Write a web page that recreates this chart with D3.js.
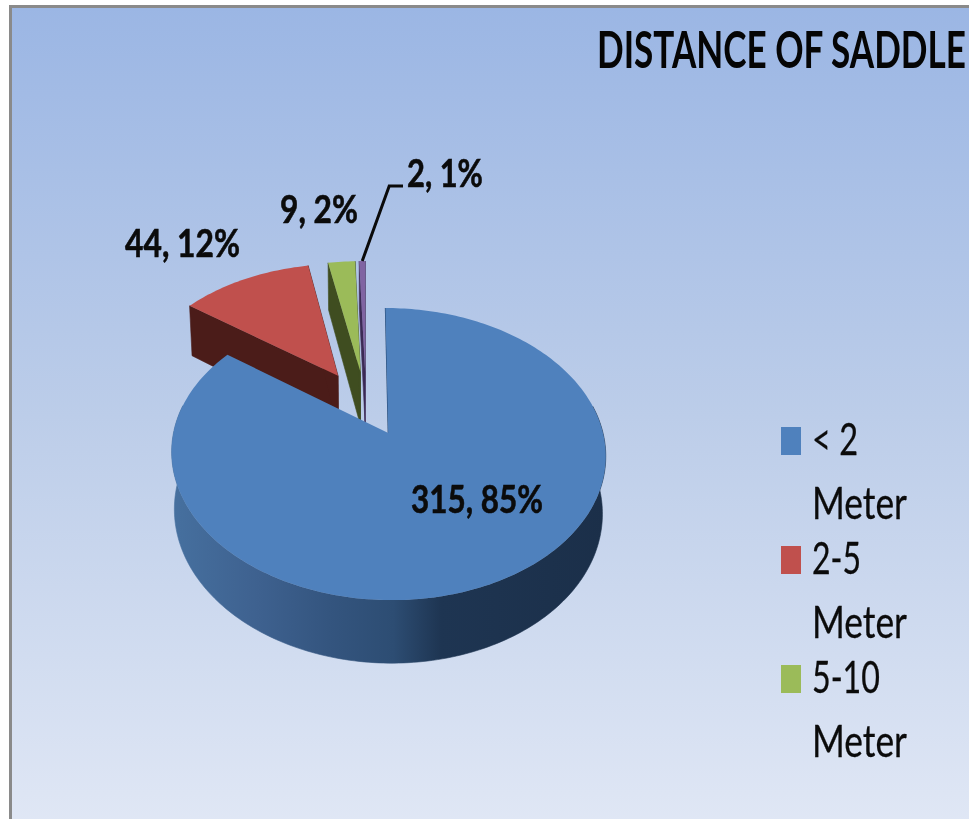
<!DOCTYPE html>
<html><head><meta charset="utf-8">
<script src="https://cdn.jsdelivr.net/npm/d3@7"></script>
<style>html,body{margin:0;padding:0;background:#fff;overflow:hidden}svg{display:block;filter:blur(.6px)}</style>
</head><body><svg id="c" width="969" height="819"></svg>
<script>
const categories = ["< 2 Meter","2-5 Meter","5-10 Meter","> 10 Meter"];
const counts = [315,44,9,2];
const percentLabels = ["85%","12%","2%","1%"];
const legendLines = [["< 2","Meter"],["2-5","Meter"],["5-10","Meter"]];
const titleText = "DISTANCE OF SADDLE";
const topColors = ["#4f81bd","#c0504d","#9bbb59","#8064a2"];
const wallColors = ["#2f5583","#4b1c19","#3f4d20","#3c2a55"];

const svg = d3.select("#c");
const defs = svg.append("defs");
const bg = defs.append("linearGradient").attr("id","bg").attr("x1",0).attr("x2",0).attr("y1",0).attr("y2",1);
[[0,"#9bb6e4"],[.5,"#bccde9"],[1,"#e0e7f5"]].forEach(s=>bg.append("stop").attr("offset",s[0]).attr("stop-color",s[1]));
const wg = defs.append("linearGradient").attr("id","wall").attr("gradientUnits","userSpaceOnUse").attr("x1",172).attr("x2",606).attr("y1",0).attr("y2",0);
[[0,"#46709f"],[.2,"#3e618f"],[.36,"#34557f"],[.51,"#2d4d73"],[.62,"#1e3552"],[1,"#1b2f49"]].forEach(s=>wg.append("stop").attr("offset",s[0]).attr("stop-color",s[1]));

svg.append("rect").attr("width",969).attr("height",819).attr("fill","#fff");
svg.append("rect").attr("x",10.5).attr("y",6.5).attr("width",970).attr("height",820).attr("fill","url(#bg)").attr("stroke","#8a8a8a").attr("stroke-width",3);

// perspective projection of the pie plane
const ox=366, oy=404.5, ax=208.6, ay=134.9, k=.14;
const explode=[.23,.26,.25,.25];
const project=(u,v)=>{const w=1+k*v;return [ox+ax*u/w, oy-ay*v/w];};
const depth=(p,v)=>[ox+(p[0]-ox)*.986, p[1]+55.2-6.5*v];
const pie=d3.pie().sort(null).value(d=>d);
const arcs=pie(counts);
const line=d3.line();

function slicePts(a,i){
  const mid=(a.startAngle+a.endAngle)/2;
  const cu=explode[i]*Math.sin(mid), cv=explode[i]*Math.cos(mid);
  const n=Math.max(2,Math.ceil((a.endAngle-a.startAngle)/.02));
  const rim=d3.range(n+1).map(j=>{
    const t=a.startAngle+(a.endAngle-a.startAngle)*j/n;
    return {u:cu+Math.sin(t),v:cv+Math.cos(t),front:Math.cos(t)<.2};
  });
  return {c:{u:cu,v:cv},rim};
}
const P=q=>project(q.u,q.v), B=q=>depth(P(q),q.v);
const order=[3,2,1,0];
const g=svg.append("g");
const geo=arcs.map(slicePts);
order.forEach(i=>{
  const s=geo[i], fill=i===0?"url(#wall)":wallColors[i];
  const wall=pts=>g.append("path").attr("d",line(pts)+"Z").attr("fill",fill).attr("stroke",fill).attr("stroke-width",.6);
  if(i===0){
    const front=s.rim.filter(q=>q.front);
    wall([...front.map(P),...front.slice().reverse().map(B)]);
    g.append("path").attr("d",line([P(s.rim[0]),P(s.c)])).attr("stroke","#274a75").attr("stroke-width",1.2);
  } else {
    wall([P(s.rim[0]),P(s.c),B(s.c),B(s.rim[0])]);
    wall([P(s.rim[s.rim.length-1]),P(s.c),B(s.c),B(s.rim[s.rim.length-1])]);
  }
  g.append("path").attr("d",line([P(s.c),...s.rim.map(P)])+"Z").attr("fill",topColors[i]);
});

// leader line for the smallest slice
const lastRim=geo[3].rim[Math.floor(geo[3].rim.length/2)], ls=P(lastRim);
svg.append("path").attr("d",line([ls,[ls[0]+27,186],[403,186]])).attr("fill","none").attr("stroke","#0a0a0a").attr("stroke-width",3);

const font='Lato,"Open Sans",sans-serif';
// squeeze each text horizontally to the width it has in the picture
const fit=(sel,w)=>{
  const x=+sel.attr("x"), y=+sel.attr("y"), len=sel.node().getComputedTextLength();
  return sel.attr("x",0).attr("y",0).attr("transform",`translate(${x},${y}) scale(${w/len},1)`);
};
const labelBox=[[411,513,132],[125,257,115],[280,223,78],[407,187,76]];
counts.forEach((c,i)=>fit(svg.append("text").attr("x",labelBox[i][0]).attr("y",labelBox[i][1])
  .attr("font-family",font).attr("font-weight",700).attr("font-size",39).attr("fill","#0b0b0b").attr("stroke","#0b0b0b").attr("stroke-width",.6).text(`${c}, ${percentLabels[i]}`),labelBox[i][2]));

fit(svg.append("text").attr("x",597).attr("y",68).attr("font-family",font).attr("font-weight",700).attr("font-size",51).attr("fill","#050505").text(titleText),369);

const legY=[455,574,693];
const legW=[[46,95],[49,95],[68,95]];
legendLines.forEach((l,i)=>{
  svg.append("rect").attr("x",781).attr("y",legY[i]-28).attr("width",20).attr("height",28).attr("fill",topColors[i]);
  l.forEach((t,j)=>fit(svg.append("text").attr("x",812).attr("y",legY[i]+j*64).attr("font-family",font).attr("font-size",45).attr("fill","#0b0b0b").attr("stroke","#0b0b0b").attr("stroke-width",.3).text(t),legW[i][j]));
});
</script></body></html>
